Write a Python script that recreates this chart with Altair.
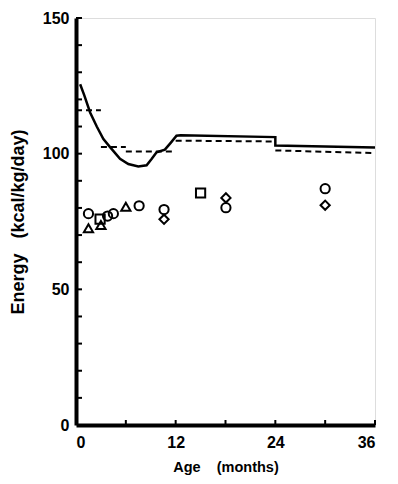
import altair as alt
import pandas as pd

# Solid curve (recommended intake)
solid_age = [0.5, 1.0, 1.7, 2.5, 3.3, 4.1, 5.3, 6.3, 7.5, 8.5, 9.1, 9.7, 10.7, 11.4, 12.1, 12.6, 24.0, 24.0, 36.0]
solid_val = [125.6, 121.5, 115.2, 110.0, 105.4, 102.4, 98.1, 96.2, 95.3, 95.7, 98.0, 100.5, 101.5, 104.0, 106.6, 106.8, 106.1, 103.0, 102.3]

# Dashed step segments
dash_age = [0, 3, 3, 6, 6, 12, 12, 24, 24, 36]
dash_val = [116.0, 116.0, 102.5, 102.5, 100.8, 100.8, 104.8, 104.5, 101.2, 100.2]
dash_seg = ["a", "a", "b", "b", "c", "c", "d", "d", "e", "e"]

# Observed points
pt_age = [1.5, 1.5, 2.9, 3.0, 3.8, 4.5, 6.0, 7.6, 10.6, 10.6, 15.0, 18.05, 18.05, 30.0, 30.0]
pt_val = [77.9, 72.5, 75.9, 73.7, 77.0, 77.9, 80.4, 80.8, 79.4, 75.8, 85.5, 83.7, 80.1, 87.1, 81.0]
pt_shape = ["circle", "triangle-up", "square", "triangle-up", "circle", "circle", "triangle-up",
            "circle", "circle", "diamond", "square", "diamond", "circle", "circle", "diamond"]

y_ticks = [10, 20, 30, 40, 50, 60, 70, 80, 90, 100, 110, 120, 130, 140, 150]
x_ticks = [6, 12, 18, 24, 30, 36]
y_labels = [0, 50, 100, 150]
x_labels = [0, 12, 24, 36]

W, H = 299, 407
FONT = "Liberation Sans"

xs = alt.Scale(domain=[0, 36], nice=False, zero=False)
ys = alt.Scale(domain=[0, 150], nice=False)

solid_df = pd.DataFrame({"age": solid_age, "val": solid_val, "i": list(range(len(solid_age)))})
dash_df = pd.DataFrame({"age": dash_age, "val": dash_val, "seg": dash_seg})
pt_df = pd.DataFrame({"age": pt_age, "val": pt_val, "shape": pt_shape})
yt_df = pd.DataFrame({"v": y_ticks})
xt_df = pd.DataFrame({"v": x_ticks})

x_axis = alt.Axis(values=x_labels, tickSize=0, labelPadding=9, labelFontSize=16,
                  labelFontWeight="bold", labelFont=FONT, title="Age\u00a0\u00a0\u00a0\u00a0(months)",
                  titleFontSize=14.5, titleFontWeight="bold", titleFont=FONT, titlePadding=10,
                  domainWidth=4, domainColor="black", grid=False, labelColor="black", titleColor="black")
y_axis = alt.Axis(values=y_labels, tickSize=0, labelPadding=7, labelFontSize=16,
                  labelFontWeight="bold", labelFont=FONT, title="Energy\u00a0\u00a0\u00a0(kcal/kg/day)",
                  titleFontSize=18, titleFontWeight="bold", titleFont=FONT, titlePadding=15,
                  domainWidth=4, domainColor="black", grid=False, labelColor="black", titleColor="black")

solid = alt.Chart(solid_df).mark_line(color="black", strokeWidth=2.5).encode(
    x=alt.X("age:Q", scale=xs, axis=x_axis),
    y=alt.Y("val:Q", scale=ys, axis=y_axis),
    order="i:Q",
)

dashed = alt.Chart(dash_df).mark_line(color="black", strokeWidth=2, strokeDash=[6, 4]).encode(
    x=alt.X("age:Q", scale=xs),
    y=alt.Y("val:Q", scale=ys),
    detail="seg:N",
)

points = alt.Chart(pt_df).mark_point(filled=False, color="black", strokeWidth=2, size=85, opacity=1).encode(
    x=alt.X("age:Q", scale=xs),
    y=alt.Y("val:Q", scale=ys),
    shape=alt.Shape("shape:N", scale=None, legend=None),
)

yticks = alt.Chart(yt_df).mark_rule(color="black", strokeWidth=2).encode(
    y=alt.Y("v:Q", scale=ys),
    x=alt.value(0),
    x2=alt.value(6),
)

xticks = alt.Chart(xt_df).mark_rule(color="black", strokeWidth=2).encode(
    x=alt.X("v:Q", scale=xs),
    y=alt.value(H),
    y2=alt.value(H - 5),
)

chart = alt.layer(yticks, xticks, solid, dashed, points).properties(
    width=W, height=H,
    autosize=alt.AutoSizeParams(type="none"),
    padding={"left": 68, "top": 10, "right": 15, "bottom": 58},
).configure_view(stroke=None).configure(background="white")

chart.save("out.html", embed_options={"renderer": "svg", "actions": False})
